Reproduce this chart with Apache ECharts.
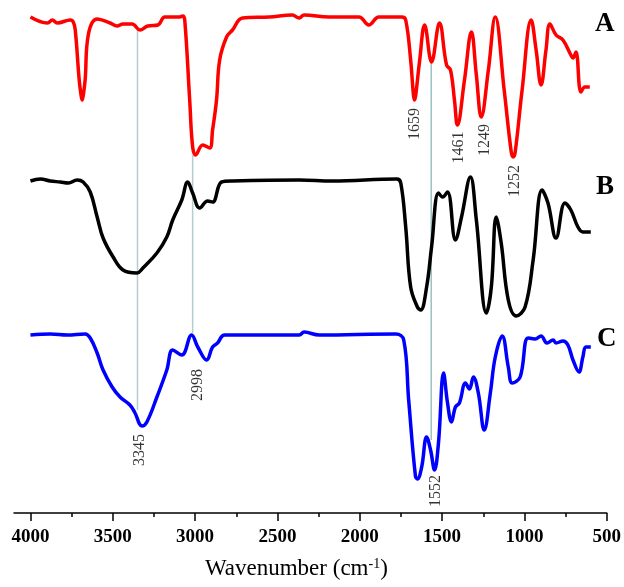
<!DOCTYPE html>
<html>
<head>
<meta charset="utf-8">
<script src="https://cdn.jsdelivr.net/npm/echarts@6/dist/echarts.min.js"></script>
<style>
  html, body { margin: 0; padding: 0; background: #fff; }
  #chart { width: 624px; height: 587px; }
</style>
</head>
<body>
<div id="chart"></div>
<script>
// FTIR spectra, stacked with offsets: [wavenumber, transmittance (a.u.)]
var spectrumA = [
    [4000, 99.2], [3897, 98.0], [3867, 98.6], [3837, 98.0], [3758, 98.6], [3740, 98.2],
    [3728, 96.6], [3704, 86.6], [3692, 83.4], [3686, 82.6], [3680, 83.4], [3668, 86.6],
    [3649, 95.6], [3595, 98.8],
    [3516, 98.0], [3474, 97.4], [3438, 97.8], [3383, 97.8], [3335, 96.6], [3287, 97.4],
    [3226, 97.6], [3184, 99.2], [3093, 99.2], [3075, 99.4], [3063, 98.6], [3033, 82.6],
    [3015, 73.2], [2997, 71.6], [2954, 73.6], [2912, 73.0], [2894, 76.6], [2870, 82.6],
    [2851, 90.6], [2809, 95.2], [2773, 96.6], [2712, 99.0], [2549, 99.2], [2410, 99.6],
    [2368, 99.0], [2338, 99.6], [2186, 99.2], [2005, 99.2], [1945, 97.6], [1884, 99.2],
    [1745, 99.2], [1721, 98.6], [1691, 90.6], [1674, 83.6], [1667, 82.6], [1660, 83.6],
    [1636, 90.6], [1606, 97.6],
    [1564, 90.2], [1516, 98.0], [1473, 89.6], [1449, 88.6], [1425, 82.6], [1407, 77.6],
    [1364, 86.6], [1322, 96.2], [1292, 87.6], [1262, 79.2], [1219, 88.6], [1177, 99.2],
    [1123, 84.6], [1080, 72.2], [1068, 71.2], [1056, 72.2], [1014, 84.6], [959, 98.6],
    [929, 92.6], [899, 85.6],
    [869, 92.6], [845, 97.8], [808, 95.6], [766, 94.6], [718, 91.6], [705, 91.0],
    [687, 92.2], [657, 84.2], [633, 85.2], [603, 85.2]
];

var spectrumB = [
    [4000, 66.4], [3940, 66.8], [3879, 66.4], [3819, 66.2], [3770, 66.0], [3716, 66.6],
    [3680, 66.2], [3637, 64.2], [3595, 59.2], [3559, 55.0], [3498, 51.2], [3438, 48.6],
    [3353, 48.0], [3317, 49.0], [3232, 52.0], [3172, 55.2], [3136, 58.6], [3081, 62.6],
    [3045, 66.2], [3015, 64.0], [2972, 61.0], [2924, 62.4], [2894, 62.2], [2839, 66.2],
    [2773, 66.4], [2368, 66.6], [2168, 66.4], [1775, 66.8], [1751, 66.0], [1721, 57.2],
    [1691, 45.2], [1650, 41.2], [1630, 40.6], [1594, 45.2], [1564, 53.2], [1522, 64.0],
    [1497, 63.2], [1467, 64.2], [1419, 54.6], [1382, 59.2], [1328, 67.2], [1292, 58.6],
    [1231, 40.0], [1201, 45.2], [1171, 59.2], [1141, 54.0], [1098, 42.6], [1050, 39.4],
    [996, 41.2], [947, 50.6], [893, 64.6], [857, 62.0], [808, 55.0], [754, 62.0],
    [718, 60.6], [675, 57.2], [645, 56.2], [597, 56.2]
];

var spectrumC = [
    [4000, 35.6], [3879, 35.8], [3776, 35.6], [3668, 35.8], [3637, 35.0], [3595, 32.0],
    [3559, 28.6], [3504, 25.2], [3456, 23.2], [3396, 21.6], [3365, 20.0], [3323, 17.4],
    [3293, 18.2], [3232, 23.2], [3172, 28.6], [3136, 32.6], [3081, 31.6], [3021, 35.6],
    [2984, 33.2], [2930, 30.6], [2894, 33.2], [2864, 34.0], [2821, 35.6], [2368, 35.6],
    [2338, 36.2], [2247, 35.6], [1781, 35.8], [1733, 34.6], [1703, 22.6], [1662, 7.4],
    [1650, 6.8], [1624, 9.2], [1594, 15.2], [1570, 12.6], [1546, 8.6], [1522, 14.0],
    [1491, 28.0], [1467, 22.0], [1443, 18.2], [1419, 21.2], [1395, 22.0], [1358, 26.0],
    [1334, 24.8], [1310, 27.2], [1280, 24.0], [1244, 16.6], [1207, 24.0], [1177, 31.2],
    [1135, 35.4], [1098, 29.2], [1074, 26.0], [1026, 27.2], [978, 35.0], [935, 34.8],
    [899, 35.4], [863, 34.0], [826, 34.6], [808, 34.0], [766, 34.4], [736, 33.6],
    [705, 30.6], [669, 28.2], [645, 31.2], [627, 33.2], [597, 33.2]
];

// vertical guide lines
var guideX = [3350, 3015, 1566];
var guideTop = [96.6, 71.6, 90.0];
var guideBottom = [20.6, 36.0, 14.6];

// peak annotations
var peakNames = ['1659', '1461', '1249', '1252', '3345', '2998', '1552'];
var peakX = [1667, 1401, 1243, 1056, 3335, 2984, 1540];
var peakY = [77.8, 73.1, 74.6, 66.4, 12.6, 25.6, 4.4];

var majorTicks = [4000, 3500, 3000, 2500, 2000, 1500, 1000, 500];
var minorTicks = [3750, 3250, 2750, 2250, 1750, 1250, 750];

var serif = '"Liberation Serif", "Times New Roman", serif';

var chart = echarts.init(document.getElementById('chart'), null, { renderer: 'canvas' });

var series = [];

guideX.forEach(function(x, i) {
    series.push({
        type: 'line',
        xAxisIndex: 0,
        data: [[x, guideTop[i]], [x, guideBottom[i]]],
        symbol: 'none',
        silent: true,
        z: 1,
        lineStyle: { color: i == 2 ? '#98c2c3' : '#b3cdd0', width: 1.5 }
    });
});

var curves = [
    { data: spectrumA, color: '#ff0000' },
    { data: spectrumB, color: '#000000' },
    { data: spectrumC, color: '#0000ff' }
];

curves.forEach(function(c) {
    series.push({
        type: 'line',
        xAxisIndex: 0,
        data: c.data,
        symbol: 'none',
        smooth: 0.4,
        z: 3,
        lineStyle: { color: c.color, width: 3.5 }
    });
});

series.push({
    type: 'scatter',
    xAxisIndex: 0,
    symbolSize: 0,
    silent: true,
    z: 4,
    data: peakNames.map(function(n, i) {
        return { value: [peakX[i], peakY[i]], name: n };
    }),
    label: {
        show: true,
        position: 'inside',
        rotate: 90,
        formatter: '{b}',
        fontFamily: serif,
        fontSize: 16,
        color: '#000'
    }
});

var option = {
    animation: false,
    backgroundColor: '#fff',
    grid: { left: 14, right: 15, top: 13, bottom: 74 },
    xAxis: [{
        type: 'value',
        min: 500,
        max: 4100,
        inverse: true,
        position: 'bottom',
        splitLine: { show: false },
        axisLine: { lineStyle: { color: '#000', width: 1.5 } },
        axisTick: { customValues: majorTicks, length: 8, lineStyle: { color: '#000', width: 1.5 } },
        axisLabel: {
            customValues: majorTicks,
            formatter: function(v) { return String(v); },
            margin: 15,
            fontFamily: serif,
            fontWeight: 'bold',
            fontSize: 19,
            color: '#000'
        },
        name: 'Wavenumber (cm{sup|-1})',
        nameLocation: 'middle',
        nameGap: 44,
        nameTextStyle: {
            fontFamily: serif,
            fontSize: 23,
            color: '#000',
            padding: [0, 28, 0, 0],
            rich: {
                sup: { fontFamily: serif, fontSize: 14, verticalAlign: 'top', padding: [0, 0, 10, 0], color: '#000' }
            }
        }
    }, {
        type: 'value',
        min: 500,
        max: 4100,
        inverse: true,
        position: 'bottom',
        splitLine: { show: false },
        axisLine: { show: false },
        axisTick: { customValues: minorTicks, length: 4, lineStyle: { color: '#000', width: 1.5 } },
        axisLabel: { show: false }
    }],
    yAxis: {
        type: 'value',
        min: 0,
        max: 100,
        show: false
    },
    graphic: [
        { type: 'text', left: 595, top: 11, style: { text: 'A', font: 'bold 27px ' + serif, fill: '#000' } },
        { type: 'text', left: 596, top: 174, style: { text: 'B', font: 'bold 27px ' + serif, fill: '#000' } },
        { type: 'text', left: 597, top: 326, style: { text: 'C', font: 'bold 27px ' + serif, fill: '#000' } }
    ],
    series: series
};

chart.setOption(option);
</script>
</body>
</html>
